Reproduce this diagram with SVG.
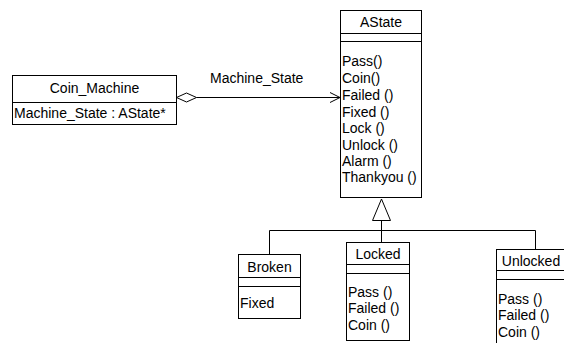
<svg xmlns="http://www.w3.org/2000/svg" width="564" height="343" viewBox="0 0 564 343">
  <style>
    .box { fill: #ffffff; stroke: #000000; stroke-width: 1; }
    .sep { stroke: #000000; stroke-width: 1; }
    .line { fill: none; stroke: #000000; stroke-width: 1; }
    text { font-family: "Liberation Sans", Arial, sans-serif; font-size: 14px; fill: #000000; }
    .title { text-anchor: middle; }
  </style>
  <rect width="564" height="343" fill="#ffffff"/>

  <!-- connectors -->
  <g id="connectors">
    <!-- aggregation: Coin_Machine -> AState -->
    <polygon class="line" points="176.5,97.5 186.5,93 196.5,97.5 186.5,102"/>
    <line class="line" x1="196.5" y1="97.5" x2="340" y2="97.5"/>
    <polyline class="line" points="330,92.5 340,97.5 330,102.5"/>
    <text x="210" y="83">Machine_State</text>
    <!-- generalization: subclasses -> AState -->
    <polygon class="line" points="381.5,199 372.5,220.5 390.5,220.5"/>
    <line class="line" x1="381.5" y1="220.5" x2="381.5" y2="242.5"/>
    <line class="line" x1="269.5" y1="230.5" x2="535.5" y2="230.5"/>
    <line class="line" x1="269.5" y1="230.5" x2="269.5" y2="254.5"/>
    <line class="line" x1="535.5" y1="230.5" x2="535.5" y2="249.5"/>
  </g>

  <g id="coin-machine">
    <rect class="box" x="12.5" y="75.5" width="164" height="49"/>
    <line class="sep" x1="12.5" y1="102.5" x2="176.5" y2="102.5"/>
    <text class="title" x="94.5" y="93">Coin_Machine</text>
    <text x="14" y="118">Machine_State : AState*</text>
  </g>

  <g id="astate">
    <rect class="box" x="340.5" y="10.5" width="81" height="187"/>
    <line class="sep" x1="340.5" y1="33.5" x2="421.5" y2="33.5"/>
    <line class="sep" x1="340.5" y1="41.5" x2="421.5" y2="41.5"/>
    <text class="title" x="381" y="27">AState</text>
    <text x="342" y="66">Pass()</text>
    <text x="342" y="83">Coin()</text>
    <text x="342" y="100">Failed ()</text>
    <text x="342" y="117">Fixed ()</text>
    <text x="342" y="133">Lock ()</text>
    <text x="342" y="150">Unlock ()</text>
    <text x="342" y="166">Alarm ()</text>
    <text x="342" y="182">Thankyou ()</text>
  </g>

  <g id="broken">
    <rect class="box" x="238.5" y="254.5" width="62" height="64"/>
    <line class="sep" x1="238.5" y1="277.5" x2="300.5" y2="277.5"/>
    <line class="sep" x1="238.5" y1="286.5" x2="300.5" y2="286.5"/>
    <text class="title" x="269.5" y="272">Broken</text>
    <text x="240" y="308">Fixed</text>
  </g>

  <g id="locked">
    <rect class="box" x="346.5" y="242.5" width="63" height="98"/>
    <line class="sep" x1="346.5" y1="264.5" x2="409.5" y2="264.5"/>
    <line class="sep" x1="346.5" y1="273.5" x2="409.5" y2="273.5"/>
    <text class="title" x="378" y="259">Locked</text>
    <text x="348" y="297">Pass ()</text>
    <text x="348" y="313">Failed ()</text>
    <text x="348" y="330">Coin ()</text>
  </g>

  <g id="unlocked">
    <rect class="box" x="496.5" y="249.5" width="80" height="100"/>
    <line class="sep" x1="496.5" y1="270.5" x2="576.5" y2="270.5"/>
    <line class="sep" x1="496.5" y1="279.5" x2="576.5" y2="279.5"/>
    <text class="title" x="531" y="266">Unlocked</text>
    <text x="498" y="304">Pass ()</text>
    <text x="498" y="320">Failed ()</text>
    <text x="498" y="337">Coin ()</text>
  </g>
</svg>
